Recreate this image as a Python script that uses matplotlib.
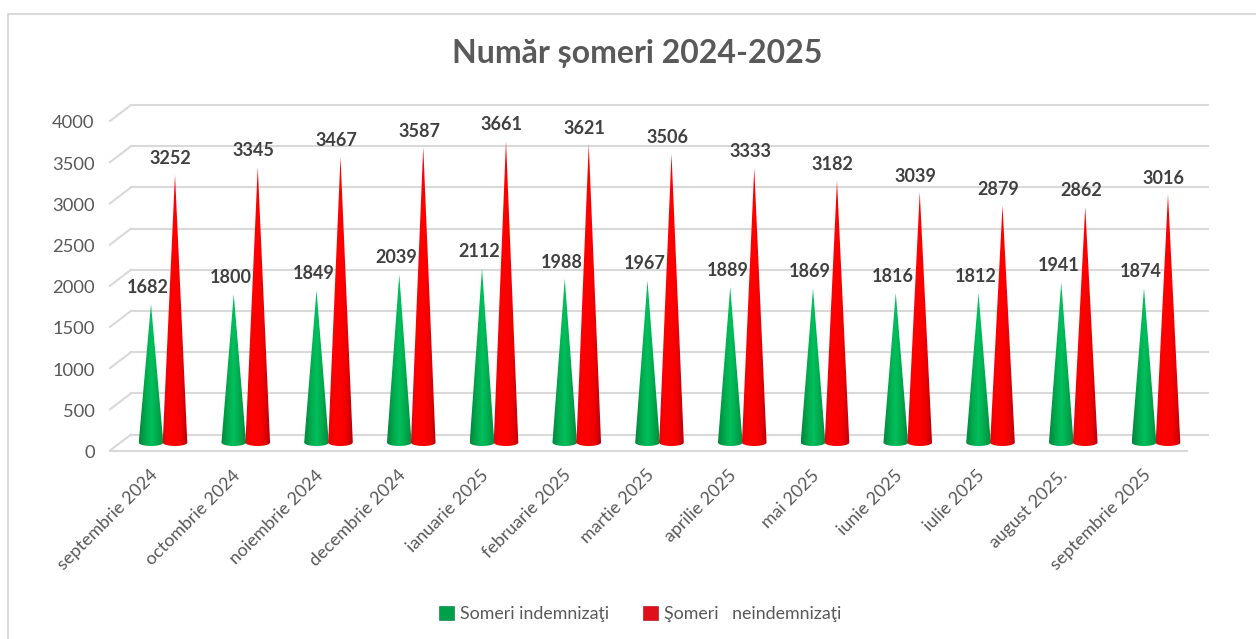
import numpy as np
import matplotlib
matplotlib.use("Agg")
import matplotlib.pyplot as plt
from matplotlib.colors import LinearSegmentedColormap
from matplotlib.lines import Line2D
from matplotlib.patches import Patch, PathPatch
from matplotlib.path import Path
from matplotlib.transforms import ScaledTranslation

luni = ["septembrie 2024", "octombrie 2024", "noiembrie 2024", "decembrie 2024",
        "ianuarie 2025", "februarie 2025", "martie 2025", "aprilie 2025",
        "mai 2025", "iunie 2025", "iulie 2025", "august 2025.", "septembrie 2025"]
indemnizati = [1682, 1800, 1849, 2039, 2112, 1988, 1967, 1889, 1869, 1816, 1812, 1941, 1874]
neindemnizati = [3252, 3345, 3467, 3587, 3661, 3621, 3506, 3333, 3182, 3039, 2879, 2862, 3016]
valori_y = [0, 500, 1000, 1500, 2000, 2500, 3000, 3500, 4000]

plt.rcParams["font.family"] = ["Lato", "DejaVu Sans"]
GRI = "#595959"
LINIE = "#d9d9d9"
W, H = 1256, 639

# pixeli in unitati de date
PX_X = 1 / 82.75
PX_Y = 4000 / 329.5
DEPTH_X = 21 * PX_X
DEPTH_Y = 8 * PX_Y

fig = plt.figure(figsize=(W / 100, H / 100), dpi=100, facecolor="white")
ax = fig.add_axes([110 / W, 1 - 450.5 / H, (1208 - 110) / W, (450.5 - 105) / H])
ax.set_xlim(-53 * PX_X, 1045 * PX_X)
ax.set_ylim(-DEPTH_Y, 4000 + DEPTH_Y)
ax.patch.set_alpha(0)
for s in ax.spines.values():
    s.set_visible(False)

# chenarul graficului
fig.add_artist(Line2D([8 / W, 8 / W, 1], [0, 1 - 14 / H, 1 - 14 / H], color=LINIE, lw=1.4))

# peretele din spate si podeaua
x_st, x_dr = ax.get_xlim()
for v in valori_y:
    ax.plot([x_st + DEPTH_X, x_dr], [v + DEPTH_Y, v + DEPTH_Y], color=LINIE, lw=1.5, zorder=1, clip_on=False)
    ax.plot([x_st, x_st + DEPTH_X], [v - DEPTH_Y, v + DEPTH_Y], color=LINIE, lw=1.5, zorder=1, clip_on=False)
ax.plot([x_st, x_dr - DEPTH_X], [-DEPTH_Y, -DEPTH_Y], color=LINIE, lw=1.5, zorder=1, clip_on=False)

verde = LinearSegmentedColormap.from_list("v", ["#00863c", "#00a84c", "#00c05c", "#00a84c", "#008c40"])
rosu = LinearSegmentedColormap.from_list("r", ["#e8000c", "#ff0000", "#ff0000", "#f00000", "#b8000c"])


def con(x, val, cmap, z):
    hw = 12.3 * PX_X
    t = np.linspace(np.pi, 2 * np.pi, 30)
    baza_x = x + hw * np.cos(t)
    baza_y = 3.5 * PX_Y * np.sin(t)
    vert = [(x, val)] + list(zip(baza_x, baza_y)) + [(x, val)]
    cod = [Path.MOVETO] + [Path.LINETO] * (len(vert) - 2) + [Path.CLOSEPOLY]
    patch = PathPatch(Path(vert, cod), fc="none", ec="none", transform=ax.transData)
    ax.add_patch(patch)
    im = ax.imshow(np.linspace(0, 1, 64)[None, :], cmap=cmap, aspect="auto",
                   extent=[x - hw, x + hw, -3.5 * PX_Y, val], zorder=z, interpolation="bilinear")
    im.set_clip_path(patch)


pozitii = np.arange(len(luni))
dx = 12 * PX_X
for i in pozitii:
    con(i - dx, indemnizati[i], verde, 3)
    con(i + dx, neindemnizati[i], rosu, 4)
    ax.annotate(str(indemnizati[i]), (i - dx, indemnizati[i]), xytext=(-2, 12), textcoords="offset points",
                ha="center", va="center", fontsize=13, fontweight="bold", color="#404040", zorder=6)
    ax.annotate(str(neindemnizati[i]), (i + dx, neindemnizati[i]), xytext=(-3, 11.5), textcoords="offset points",
                ha="center", va="center", fontsize=13, fontweight="bold", color="#404040", zorder=6)

ax.set_xlim(x_st, x_dr)
ax.set_ylim(-DEPTH_Y, 4000 + DEPTH_Y)

ax.set_yticks(valori_y)
ax.set_yticklabels([str(v) for v in valori_y], fontsize=13.2, color=GRI)
ax.set_xticks(pozitii)
ax.set_xticklabels(luni, fontsize=12.9, color=GRI, rotation=45, ha="right", va="center", rotation_mode="anchor")
ax.tick_params(axis="both", length=0)
ax.tick_params(axis="y", pad=11)
ax.tick_params(axis="x", pad=16)
jos = ScaledTranslation(0, -9 / 100, fig.dpi_scale_trans)
for lab in ax.get_yticklabels():
    lab.set_transform(lab.get_transform() + jos)
stanga = ScaledTranslation(-8 / 100, 0, fig.dpi_scale_trans)
for lab in ax.get_xticklabels():
    lab.set_transform(lab.get_transform() + stanga)

fig.text(637 / W, 1 - 53 / H, "Număr șomeri 2024-2025", ha="center", va="center",
         fontsize=23, fontweight="bold", color=GRI)

maner = [Patch(fc="#00a04a", ec="#00703a", lw=0.4), Patch(fc="#e0101a", ec="#a00010", lw=0.4)]
fig.legend(maner, ["Someri indemnizaţi", "Şomeri   neindemnizaţi"], loc="center",
           bbox_to_anchor=(640 / W, 1 - 614 / H), ncol=2, frameon=False, fontsize=12.8,
           labelcolor=GRI, handlelength=0.85, handleheight=0.85, handletextpad=0.35, columnspacing=1.9)

fig.savefig("out.png", dpi=100, facecolor="white")
